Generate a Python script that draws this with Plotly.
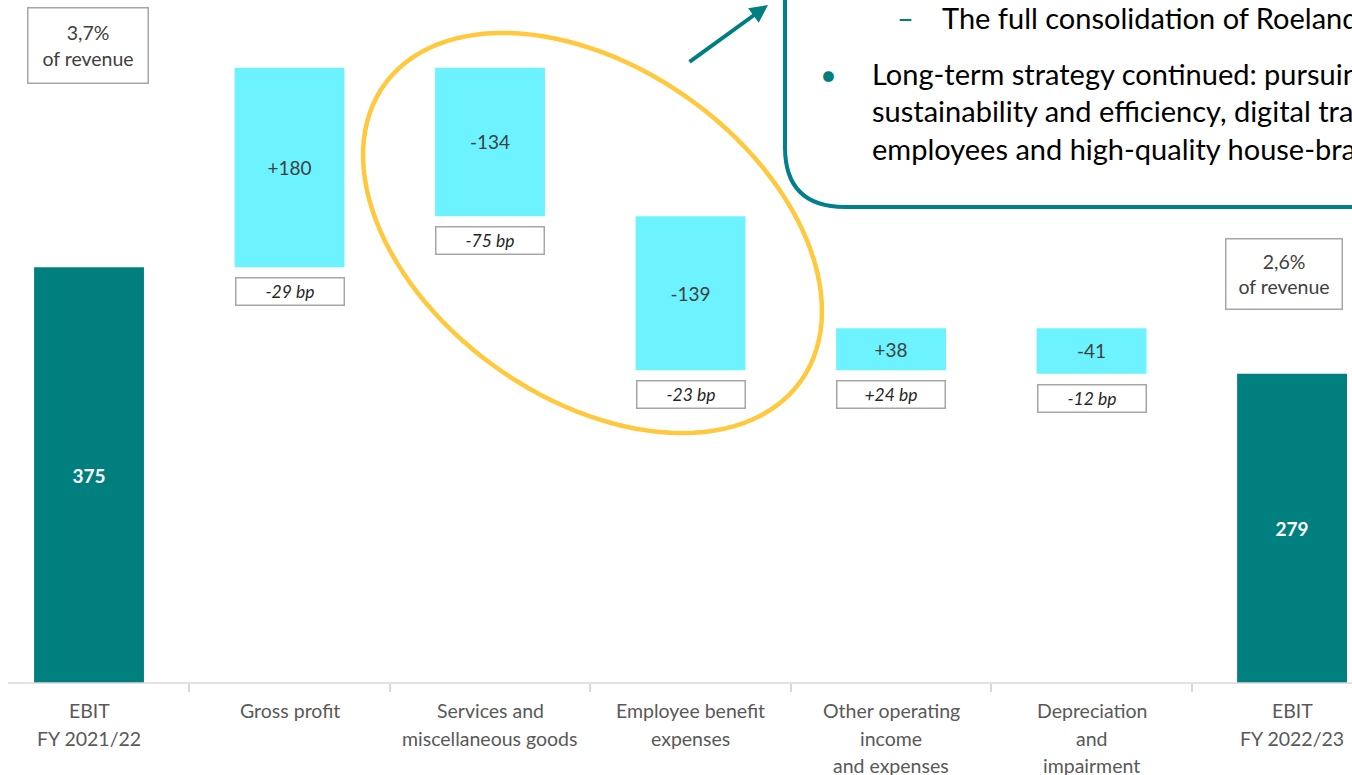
import numpy as np
import plotly.graph_objects as go

# ---- data ----
categories = ["EBIT FY 2021/22", "Gross profit", "Services and miscellaneous goods",
              "Employee benefit expenses", "Other operating income and expenses",
              "Depreciation and impairment", "EBIT FY 2022/23"]
category_lines = [["EBIT", "FY 2021/22"], ["Gross profit"], ["Services and", "miscellaneous goods"],
                  ["Employee benefit", "expenses"], ["Other operating", "income", "and expenses"],
                  ["Depreciation", "and", "impairment"], ["EBIT", "FY 2022/23"]]
values = [375, 180, -134, -139, 38, -41, 279]
measures = ["absolute", "relative", "relative", "relative", "relative", "relative", "total"]
bar_labels = ["<b>375</b>", "+180", "-134", "-139", "+38", "-41", "<b>279</b>"]
bp_labels = [None, "-29 bp", "-75 bp", "-23 bp", "+24 bp", "-12 bp", None]
revenue_labels = {0: "3,7%<br>of revenue", 6: "2,6%<br>of revenue"}
callout_bullet = ["Long-term strategy continued: pursuing",
                  "sustainability and efficiency, digital transformation,",
                  "employees and high-quality house-brands"]
callout_sub = "The full consolidation of Roeland"

TEAL = "#007F7F"
CYAN = "#6CF3FF"
YELLOW = "#FFC83D"
FONT = "Lato"

W, H = 1352, 775
PLOT_BOTTOM = 683  # pixel row of y=0

def px(x):
    return x / W

def py(y):
    return (PLOT_BOTTOM - y) / PLOT_BOTTOM

textcolors = ["white" if m in ("absolute", "total") else "#404040" for m in measures]

fig = go.Figure()
fig.add_trace(go.Waterfall(
    x=categories, y=values, measure=measures,
    text=bar_labels, textposition="inside", insidetextanchor="middle",
    textfont=dict(family=FONT, size=19, color=textcolors),
    constraintext="none",
    increasing=dict(marker=dict(color=CYAN)),
    decreasing=dict(marker=dict(color=CYAN)),
    totals=dict(marker=dict(color=TEAL)),
    connector=dict(visible=False),
    width=0.548,
    hoverinfo="skip",
))

# bar bottoms (for the bp boxes)
cum = 0
bottoms = []
for v, m in zip(values, measures):
    if m == "absolute":
        bottoms.append(0); cum = v
    elif m == "total":
        bottoms.append(0)
    else:
        new = cum + v
        bottoms.append(min(cum, new)); cum = new

annotations = []
for i, lab in enumerate(bp_labels):
    if lab is None:
        continue
    annotations.append(dict(
        x=categories[i], y=bottoms[i], xref="x", yref="y", yanchor="top", yshift=-10,
        text=f"<i>{lab}</i>", showarrow=False, width=104, height=23, borderpad=1.5,
        bordercolor="#A6A6A6", borderwidth=1.5, bgcolor="white",
        font=dict(family=FONT, size=17.5, color="#262626")))

# category labels (line by line)
for i, lines in enumerate(category_lines):
    for k, line in enumerate(lines):
        annotations.append(dict(
            x=categories[i], y=py(711 + 27 * k), xref="x", yref="paper",
            xanchor="center", yanchor="middle", text=line, showarrow=False,
            font=dict(family=FONT, size=19.5, color="#595959")))

annotations.append(dict(
    x=px(88), y=py(45.5), xref="paper", yref="paper", xanchor="center", yanchor="middle",
    text=revenue_labels[0], showarrow=False, width=116, height=71, borderpad=1.5,
    bordercolor="#A6A6A6", borderwidth=1.5, bgcolor="white",
    font=dict(family=FONT, size=19.5, color="#404040")))
annotations.append(dict(
    x=px(1283.5), y=py(273.5), xref="paper", yref="paper", xanchor="center", yanchor="middle",
    text=revenue_labels[6], showarrow=False, width=112, height=66, borderpad=1.5,
    bordercolor="#A6A6A6", borderwidth=1.5, bgcolor="white",
    font=dict(family=FONT, size=19.5, color="#404040")))

# callout text
CFS = 29
annotations.append(dict(x=px(905), y=py(17), xref="paper", yref="paper", xanchor="center",
                        yanchor="middle", text="–", showarrow=False,
                        font=dict(family=FONT, size=CFS, color=TEAL)))
annotations.append(dict(x=px(940), y=py(17), xref="paper", yref="paper", xanchor="left",
                        yanchor="middle", text=callout_sub, showarrow=False,
                        font=dict(family=FONT, size=CFS, color="black")))
annotations.append(dict(x=px(828), y=py(73), xref="paper", yref="paper", xanchor="center",
                        yanchor="middle", text="•", showarrow=False,
                        font=dict(family=FONT, size=CFS, color=TEAL)))
for k, line in enumerate(callout_bullet):
    annotations.append(dict(x=px(870), y=py(73 + 37.5 * k), xref="paper", yref="paper",
                            xanchor="left", yanchor="middle", text=line, showarrow=False,
                            font=dict(family=FONT, size=CFS, color="black")))

# arrow
annotations.append(dict(x=px(768), y=py(5), xref="paper", yref="paper", ax=-80, ay=58,
                        axref="pixel", ayref="pixel", text="", showarrow=True,
                        arrowhead=2, arrowsize=0.9, arrowwidth=4, arrowcolor=TEAL, standoff=0))

# shapes: ellipse and callout frame
cx, cy, a, b, th = 592.5, 233, 255.6, 165.4, np.deg2rad(35.3)
t = np.linspace(0, 2 * np.pi, 120)
ex = cx + a * np.cos(th) * np.cos(t) - b * np.sin(th) * np.sin(t)
ey = cy + a * np.sin(th) * np.cos(t) + b * np.cos(th) * np.sin(t)
epath = "M " + " L ".join(f"{px(xx):.5f},{py(yy):.5f}" for xx, yy in zip(ex, ey)) + " Z"

cpath = (f"M {px(785):.5f},{py(-20):.5f} L {px(785):.5f},{py(147):.5f} "
         f"Q {px(785):.5f},{py(207):.5f} {px(845):.5f},{py(207):.5f} L {px(1420):.5f},{py(207):.5f}")

shapes = [
    dict(type="path", path=epath, xref="paper", yref="paper", line=dict(color=YELLOW, width=4.5)),
    dict(type="path", path=cpath, xref="paper", yref="paper", line=dict(color="#00808A", width=4)),
    dict(type="line", x0=px(8), x1=1, y0=0, y1=0, xref="paper", yref="paper",
         line=dict(color="#D9D9D9", width=1.5)),
]

fig.update_layout(
    width=W, height=H,
    margin=dict(l=0, r=0, t=0, b=H - PLOT_BOTTOM, pad=0),
    plot_bgcolor="white", paper_bgcolor="white",
    showlegend=False,
    annotations=annotations, shapes=shapes,
    font=dict(family=FONT),
    xaxis=dict(type="category", range=[-0.444, 6.299], showline=False,
               ticks="outside", tickson="boundaries", ticklen=8, tickwidth=1.5,
               tickcolor="#D9D9D9", showgrid=False, zeroline=False, showticklabels=False),
    yaxis=dict(range=[0, 616], visible=False, showgrid=False, zeroline=False),
)

fig.write_html("out.html",
               config={"displayModeBar": False},
               post_script="document.body.style.margin='0';"
                           "document.body.style.overflow='hidden';"
                           "document.documentElement.style.overflow='hidden';")
